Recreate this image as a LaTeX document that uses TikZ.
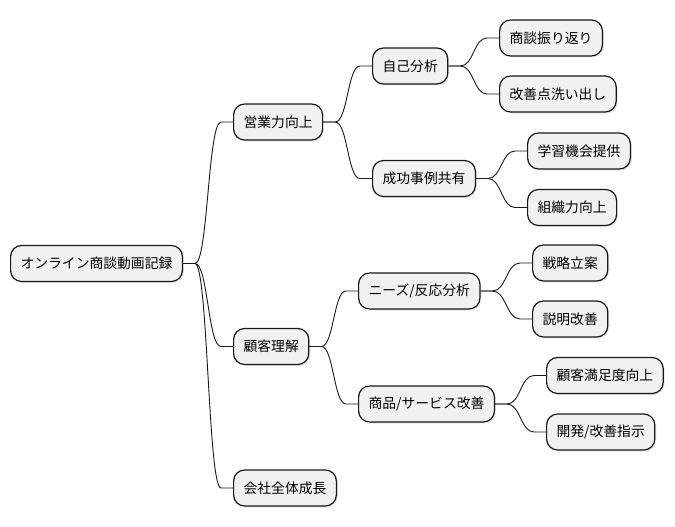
\documentclass[tikz,border=0pt]{standalone}
\usepackage{fontspec}
\setmainfont{Noto Sans CJK JP}
\usetikzlibrary{calc,shadows}
\definecolor{boxfill}{HTML}{F1F1F1}
\definecolor{boxline}{HTML}{181818}
\tikzset{
  mm/.style={draw=boxline, fill=boxfill, line width=1.2pt, rounded corners=11pt,
    minimum height=36pt, inner xsep=10pt, inner ysep=0pt, anchor=west,
    font=\fontsize{13.8pt}{16pt}\selectfont,
    drop shadow={opacity=0.18, shadow xshift=1.5pt, shadow yshift=-1.5pt}},
  link/.style={draw=boxline, line width=0.9pt}
}
\newcommand{\mmlink}[2]{%
  \draw[link] let \p1=(#1.east), \p2=(#2.west) in
    (\p1) -- (\x1+12pt,\y1) .. controls ({(\x1+\x2)/2},\y1) and ({(\x1+\x2)/2},\y2) .. (\x2-12pt,\y2) -- (\p2);}
\begin{document}
\begin{tikzpicture}[x=1pt,y=1pt]
\useasboundingbox (0,0) rectangle (675,-527);
\node[mm] (root) at (10,-263.5) {オンライン商談動画記録};
\node[mm] (a) at (233,-122) {営業力向上};
\node[mm] (b) at (233,-346.5) {顧客理解};
\node[mm] (c) at (233,-488) {会社全体成長};
\node[mm] (a1) at (372,-66) {自己分析};
\node[mm] (a2) at (372,-178.5) {成功事例共有};
\node[mm] (a11) at (499,-38) {商談振り返り};
\node[mm] (a12) at (499,-94) {改善点洗い出し};
\node[mm] (a21) at (527,-151) {学習機会提供};
\node[mm] (a22) at (527,-207.5) {組織力向上};
\node[mm] (b1) at (358,-291) {ニーズ/反応分析};
\node[mm] (b2) at (358,-404) {商品/サービス改善};
\node[mm] (b11) at (532,-263) {戦略立案};
\node[mm] (b12) at (532,-319) {説明改善};
\node[mm] (b21) at (546,-375.5) {顧客満足度向上};
\node[mm] (b22) at (546,-432) {開発/改善指示};
\mmlink{root}{a}
\mmlink{root}{b}
\mmlink{root}{c}
\mmlink{a}{a1}
\mmlink{a}{a2}
\mmlink{a1}{a11}
\mmlink{a1}{a12}
\mmlink{a2}{a21}
\mmlink{a2}{a22}
\mmlink{b}{b1}
\mmlink{b}{b2}
\mmlink{b1}{b11}
\mmlink{b1}{b12}
\mmlink{b2}{b21}
\mmlink{b2}{b22}
\end{tikzpicture}
\end{document}
